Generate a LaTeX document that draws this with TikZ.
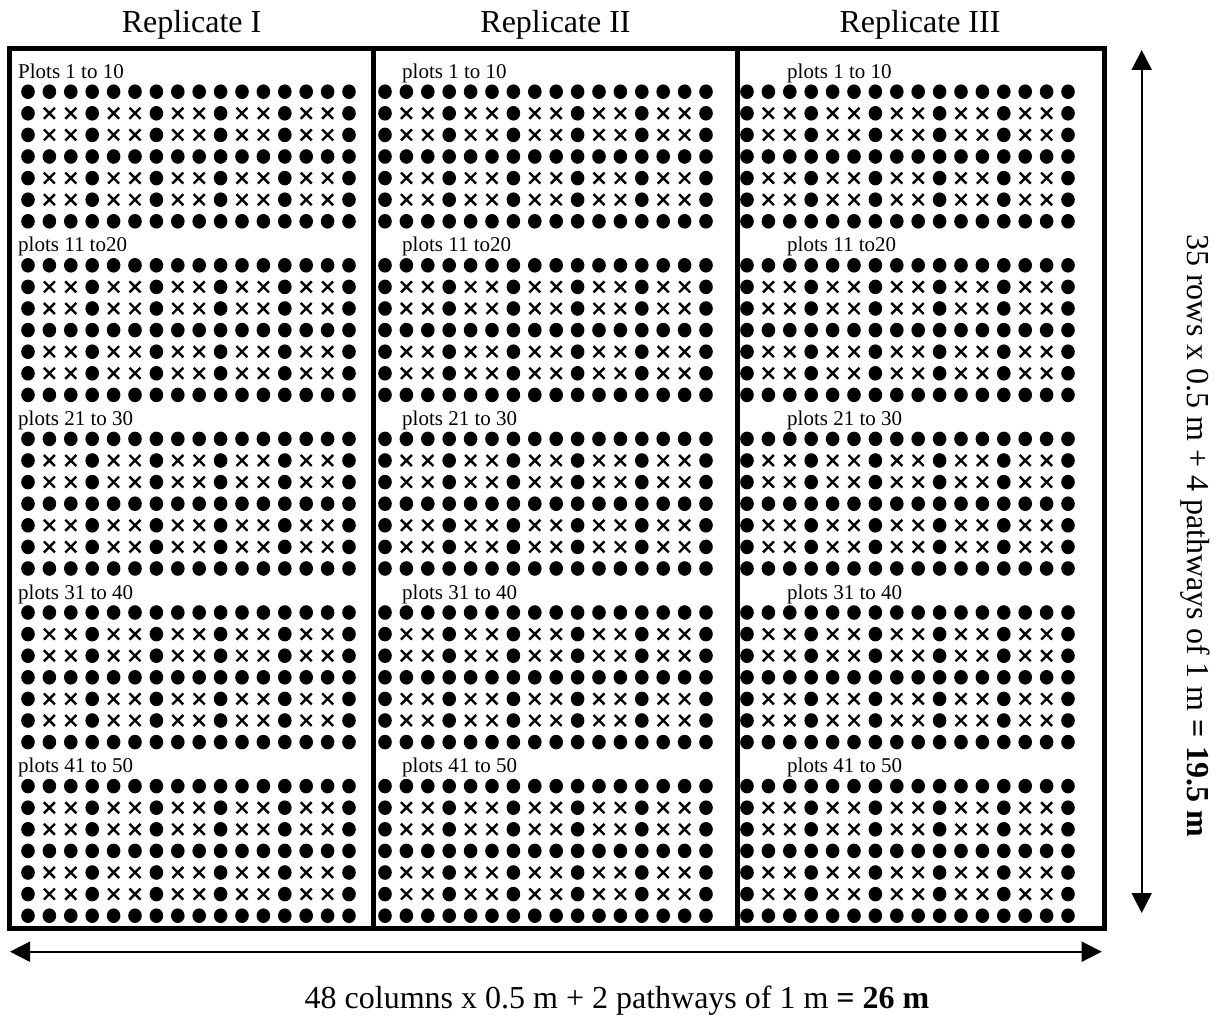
\documentclass[tikz,border=0pt]{standalone}
\usepackage{fontspec}
\setmainfont{Liberation Serif}
\usetikzlibrary{arrows.meta}
\begin{document}
\begin{tikzpicture}[x=1pt,y=-1pt,
  frame/.style={line width=5pt},
  plantdot/.style={fill=black},
  plantcross/.style={line width=2.4pt},
  title/.style={font=\fontsize{32}{38}\selectfont, anchor=base, inner sep=0pt},
  plotlabel/.style={font=\fontsize{21}{25}\selectfont, anchor=base west, inner sep=0pt},
  dimarrow/.style={line width=1.8pt, {Triangle[length=20pt,width=20pt]}-{Triangle[length=20pt,width=20pt]}},
]
\useasboundingbox (0,0) rectangle (1221,1019);
% frame and dividers
\coordinate (ftl) at (9.5,49);
\coordinate (fbr) at (1104,928);
\coordinate (d1t) at (373.5,49);
\coordinate (d1b) at (373.5,928);
\coordinate (d2t) at (737.5,49);
\coordinate (d2b) at (737.5,928);
\draw[frame] (ftl) rectangle (fbr);
\draw[frame] (d1t) -- (d1b);
\draw[frame] (d2t) -- (d2b);
% titles
\node[title] (rep1) at (191.5,33) {Replicate I};
\node[title] (rep2) at (555.5,33) {Replicate II};
\node[title] (rep3) at (920,33) {Replicate III};
% plants
\foreach \xs in {28,385,747} {
  \foreach \b in {0,...,4} {
    \foreach \j in {0,...,6} {
      \foreach \i in {0,...,15} {
        \pgfmathsetmacro\px{\xs+\i*21.4}
        \pgfmathsetmacro\py{91.7+\b*173.6+\j*21.6}
        \pgfmathtruncatemacro\isdot{(mod(\j,3)==0) || (mod(\i,3)==0)}
        \ifnum\isdot=1
          \fill[plantdot] (\px,\py) ellipse (6.8 and 7.3);
        \else
          \draw[plantcross] (\px-5.5,\py-5.5) -- (\px+5.5,\py+5.5) (\px-5.5,\py+5.5) -- (\px+5.5,\py-5.5);
        \fi
      }
    }
  }
}
% plot labels
\foreach \lx/\first [count=\r] in {18/Plots, 402/plots, 787/plots} {
  \node[plotlabel] (lab-\r-1) at (\lx,78.2) {\first{} 1 to 10};
  \foreach \t [count=\b from 2] in {plots 11 to20, plots 21 to 30, plots 31 to 40, plots 41 to 50} {
    \pgfmathsetmacro\ly{78.2+(\b-1)*173.6}
    \node[plotlabel] (lab-\r-\b) at (\lx,\ly) {\t};
  }
}
% dimension arrows
\coordinate (wl) at (10,951.7);
\coordinate (wr) at (1101.7,951.7);
\draw[dimarrow] (wl) -- (wr);
\coordinate (ht) at (1141.7,50);
\coordinate (hb) at (1141.7,913);
\draw[dimarrow] (ht) -- (hb);
% dimension texts
\node[title] (wtext) at (617,1008) {48 columns x 0.5 m + 2 pathways of 1 m \textbf{= 26 m}};
\node[title, rotate=-90] (htext) at (1187,535.5) {35 rows x 0.5 m + 4 pathways of 1 m \textbf{= 19.5 m}};
\end{tikzpicture}
\end{document}
